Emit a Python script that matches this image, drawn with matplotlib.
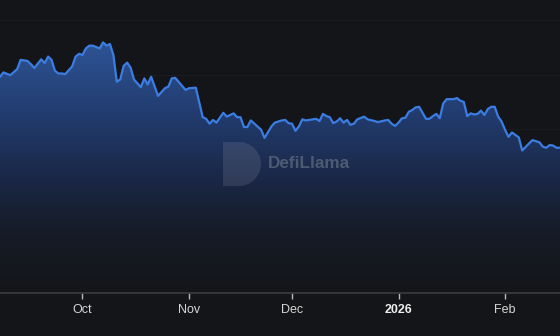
import matplotlib
matplotlib.use("Agg")
import matplotlib.pyplot as plt
import matplotlib.dates as mdates
from matplotlib.patches import PathPatch, Rectangle, Wedge
from matplotlib.transforms import IdentityTransform
from matplotlib.colors import to_rgb
import numpy as np
import pandas as pd

# TVL-style series (values in arbitrary units, grid step 100)
dates = [
    "2025-09-07", "2025-09-08", "2025-09-10", "2025-09-12", "2025-09-13", "2025-09-15",
    "2025-09-16", "2025-09-17", "2025-09-19", "2025-09-20", "2025-09-21", "2025-09-22",
    "2025-09-23", "2025-09-24", "2025-09-25", "2025-09-26", "2025-09-28", "2025-09-29",
    "2025-09-30", "2025-10-01", "2025-10-02", "2025-10-03", "2025-10-04", "2025-10-06",
    "2025-10-07", "2025-10-08", "2025-10-09", "2025-10-10", "2025-10-11", "2025-10-12",
    "2025-10-13", "2025-10-14", "2025-10-15", "2025-10-16", "2025-10-18", "2025-10-19",
    "2025-10-20", "2025-10-21", "2025-10-23", "2025-10-25", "2025-10-26", "2025-10-27",
    "2025-10-28", "2025-10-31", "2025-11-01", "2025-11-03", "2025-11-05", "2025-11-06",
    "2025-11-07", "2025-11-08", "2025-11-09", "2025-11-11", "2025-11-12", "2025-11-14",
    "2025-11-15", "2025-11-16", "2025-11-17", "2025-11-18", "2025-11-19", "2025-11-22",
    "2025-11-23", "2025-11-25", "2025-11-26", "2025-11-28", "2025-11-29", "2025-11-30",
    "2025-12-01", "2025-12-02", "2025-12-03", "2025-12-04", "2025-12-05", "2025-12-07",
    "2025-12-08", "2025-12-09", "2025-12-10", "2025-12-11", "2025-12-12", "2025-12-13",
    "2025-12-14", "2025-12-15", "2025-12-16", "2025-12-17", "2025-12-18", "2025-12-19",
    "2025-12-20", "2025-12-22", "2025-12-23", "2025-12-25", "2025-12-26", "2025-12-28",
    "2025-12-29", "2025-12-30", "2025-12-31", "2026-01-01", "2026-01-02", "2026-01-03",
    "2026-01-04", "2026-01-05", "2026-01-06", "2026-01-07", "2026-01-08", "2026-01-09",
    "2026-01-10", "2026-01-11", "2026-01-12", "2026-01-13", "2026-01-14", "2026-01-15",
    "2026-01-17", "2026-01-18", "2026-01-19", "2026-01-20", "2026-01-21", "2026-01-22",
    "2026-01-23", "2026-01-24", "2026-01-25", "2026-01-26", "2026-01-27", "2026-01-28",
    "2026-01-29", "2026-01-30", "2026-01-31", "2026-02-01", "2026-02-02", "2026-02-03",
    "2026-02-05", "2026-02-06", "2026-02-08", "2026-02-09", "2026-02-11", "2026-02-12",
    "2026-02-13", "2026-02-14", "2026-02-15", "2026-02-16", "2026-02-17",
]
values = [
    396, 404, 399, 410, 427, 425,
    419, 412, 428, 421, 433, 427,
    407, 402, 402, 401, 415, 433,
    438, 436, 448, 453, 453, 448,
    459, 453, 456, 436, 387, 391,
    416, 422, 413, 391, 377, 393,
    382, 396, 361, 375, 378, 393,
    394, 372, 375, 376, 322, 319,
    310, 317, 312, 330, 323, 329,
    322, 322, 304, 304, 316, 299,
    284, 305, 312, 316, 317, 311,
    310, 297, 305, 318, 316, 318,
    319, 315, 328, 324, 322, 311,
    314, 320, 312, 317, 308, 310,
    318, 323, 318, 315, 313, 316,
    317, 310, 306, 312, 320, 321,
    332, 335, 340, 341, 330, 319,
    319, 324, 328, 320, 347, 355,
    355, 357, 352, 350, 324, 329,
    327, 328, 334, 326, 337, 341,
    341, 323, 314, 299, 286, 294,
    285, 261, 274, 280, 276, 268,
    266, 271, 270, 266, 266,
]
tick_dates = ["2025-10-01", "2025-11-01", "2025-12-01", "2026-01-01", "2026-02-01"]
tick_labels = ["Oct", "Nov", "Dec", "2026", "Feb"]

bg = "#141518"
line_color = "#3b7de2"

x = mdates.date2num(pd.to_datetime(dates))
y = np.array(values, dtype=float)
ymax = 536.6

fig = plt.figure(figsize=(5.6, 3.36), dpi=100, facecolor=bg)
ax = fig.add_axes([0, 43 / 336, 1, 293 / 336])
ax.set_facecolor(bg)

# vertical gradient under the line, clipped to the area
stops_v = [0, 115, 206, 322, 460, ymax]
stops_c = ["#141518", "#161c28", "#1a2745", "#213b6d", "#2e5496", "#3060a8"]
rows = np.linspace(ymax, 0, 400)
cols = np.array([to_rgb(c) for c in stops_c])
grad = np.stack([np.interp(rows, stops_v, cols[:, i]) for i in range(3)], axis=1)
img = np.repeat(grad[:, None, :], 2, axis=1)
im = ax.imshow(img, extent=[x[0], x[-1], 0, ymax], aspect="auto", origin="upper",
               zorder=1, interpolation="bilinear")
poly = ax.fill_between(x, y, 0, color="none")
clip = PathPatch(poly.get_paths()[0], transform=ax.transData, facecolor="none", edgecolor="none")
ax.add_patch(clip)
im.set_clip_path(clip)
ax.set_xlim(x[0], x[-1])
ax.set_ylim(0, ymax)

ax.plot(x, y, color=line_color, lw=1.6, zorder=3, solid_joinstyle="round")

ax.set_yticks(np.arange(0, 501, 100))
ax.yaxis.grid(True, color="#1b1c20", lw=0.8)
ax.set_axisbelow(True)
ax.tick_params(axis="y", left=False, labelleft=False)

ax.set_xticks(mdates.date2num(pd.to_datetime(tick_dates)))
ax.set_xticklabels(tick_labels, fontfamily="Liberation Sans", fontsize=9, color="#d6d6d6")
for lab in ax.get_xticklabels():
    if lab.get_text() == "2026":
        lab.set_fontweight("bold")
        lab.set_color("#eeeeee")
ax.tick_params(axis="x", length=4, width=1, color="#bbbbbb", pad=4)

for s in ["top", "left", "right"]:
    ax.spines[s].set_visible(False)
ax.spines["bottom"].set_color("#3a3b3f")
ax.spines["bottom"].set_linewidth(1.2)

# watermark
H = 336
fig.add_artist(Rectangle((223, H - 186), 16, 44, transform=IdentityTransform(),
                         facecolor="white", alpha=0.1, edgecolor="none"))
fig.add_artist(Wedge((239, H - 164), 22, -90, 90, transform=IdentityTransform(),
                     facecolor="white", alpha=0.1, edgecolor="none"))
fig.text(268 / 560, 1 - 163 / H, "DefiLlama", fontfamily="Liberation Sans", fontweight="bold",
         fontsize=12.3, color="#9aa0ab", alpha=0.4, ha="left", va="center")

fig.savefig("out.png", dpi=100, facecolor=bg)
